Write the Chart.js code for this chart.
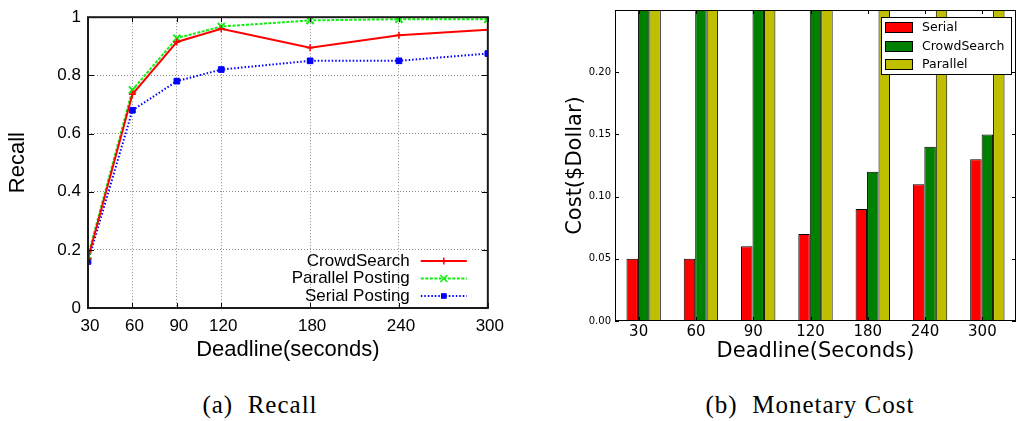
<!DOCTYPE html>
<html>
<head>
<meta charset="utf-8">
<script src="https://cdn.jsdelivr.net/npm/chart.js@4.4.0/dist/chart.umd.min.js"></script>
<style>
  html, body { margin: 0; padding: 0; background: #fff; }
  body { width: 1017px; height: 421px; position: relative; overflow: hidden; }
  .box { position: absolute; top: 0; height: 370px; }
  #recallBox { left: 0; width: 510px; }
  #costBox { left: 530px; width: 487px; }
  .cap {
    position: absolute; top: 392px; line-height: 25px;
    font-family: "Liberation Serif", serif; font-size: 25px; letter-spacing: 1px;
    color: #000; white-space: pre; transform: translateX(-50%);
  }
</style>
</head>
<body>
<div class="box" id="recallBox"><canvas id="recall"></canvas></div>
<div class="box" id="costBox"><canvas id="cost"></canvas></div>
<div class="cap" style="left:260px">(a)  Recall</div>
<div class="cap" style="left:810px">(b)  Monetary Cost</div>

<script>
// ---- Recall vs. deadline ----
const deadlines = [30, 60, 90, 120, 180, 240, 300];
const recallCrowdSearch = [0.17, 0.735, 0.915, 0.96, 0.895, 0.938, 0.957];
const recallParallel = [0.18, 0.75, 0.928, 0.968, 0.989, 0.993, 0.993];
const recallSerial = [0.16, 0.68, 0.78, 0.82, 0.85, 0.85, 0.875];
const recallTicks = [0, 0.2, 0.4, 0.6, 0.8, 1];

// ---- Monetary cost vs. deadline ----
const costCategories = ['30', '60', '90', '120', '180', '240', '300'];
const costSerial = [0.05, 0.05, 0.06, 0.07, 0.09, 0.11, 0.13];
const costCrowdSearch = [0.30, 0.30, 0.30, 0.30, 0.12, 0.14, 0.15];
const costParallel = [0.30, 0.30, 0.30, 0.30, 0.30, 0.30, 0.30];
const costTicks = [0, 0.05, 0.10, 0.15, 0.20, 0.25];

const SANS = 'Liberation Sans';
const DJV = 'DejaVu Sans';

function drawMarker(ctx, style, x, y, r, color) {
  ctx.save();
  ctx.setLineDash([]);
  ctx.strokeStyle = color;
  ctx.fillStyle = color;
  ctx.lineWidth = 1.5;
  ctx.beginPath();
  if (style === 'cross') {
    ctx.moveTo(x - r, y); ctx.lineTo(x + r, y);
    ctx.moveTo(x, y - r); ctx.lineTo(x, y + r);
    ctx.stroke();
  } else if (style === 'crossRot') {
    const d = r * Math.SQRT1_2;
    ctx.moveTo(x - d, y - d); ctx.lineTo(x + d, y + d);
    ctx.moveTo(x - d, y + d); ctx.lineTo(x + d, y - d);
    ctx.stroke();
  } else {
    const s = r * Math.SQRT1_2;
    ctx.fillRect(x - s, y - s, 2 * s, 2 * s);
  }
  ctx.restore();
}

// frame + inward tick marks on all four sides (gnuplot style)
const recallFrame = {
  id: 'recallFrame',
  afterDatasetsDraw(chart) {
    const { ctx, chartArea: a, scales } = chart;
    ctx.save();
    ctx.strokeStyle = '#000';
    ctx.lineWidth = 1;
    ctx.beginPath();
    scales.x.ticks.forEach(t => {
      const px = Math.round(scales.x.getPixelForValue(t.value)) + 0.5;
      ctx.moveTo(px, a.bottom); ctx.lineTo(px, a.bottom - 5);
      ctx.moveTo(px, a.top); ctx.lineTo(px, a.top + 5);
    });
    scales.y.ticks.forEach(t => {
      const py = Math.round(scales.y.getPixelForValue(t.value)) + 0.5;
      ctx.moveTo(a.left, py); ctx.lineTo(a.left + 6, py);
      ctx.moveTo(a.right, py); ctx.lineTo(a.right - 6, py);
    });
    ctx.stroke();
    ctx.strokeStyle = '#1a1a1a';
    ctx.lineWidth = 2;
    ctx.strokeRect(a.left, a.top, a.right - a.left, a.bottom - a.top);
    ctx.restore();
  }
};

const recallLegend = {
  id: 'recallLegend',
  afterDraw(chart) {
    const { ctx, chartArea: a } = chart;
    ctx.save();
    ctx.font = '17px "' + SANS + '"';
    ctx.fillStyle = '#000';
    ctx.textAlign = 'right';
    ctx.textBaseline = 'middle';
    chart.data.datasets.forEach((ds, i) => {
      const y = a.bottom - 47 + i * 17.5;
      ctx.fillText(ds.label, a.right - 78, y);
      ctx.save();
      ctx.strokeStyle = ds.borderColor;
      ctx.lineWidth = ds.borderWidth;
      ctx.setLineDash(ds.borderDash || []);
      ctx.beginPath();
      ctx.moveTo(a.right - 67, y);
      ctx.lineTo(a.right - 21, y);
      ctx.stroke();
      ctx.restore();
      drawMarker(ctx, ds.pointStyle, a.right - 44, y, ds.pointRadius, ds.borderColor);
    });
    ctx.restore();
  }
};

function series(values) {
  return deadlines.map((x, i) => ({ x, y: values[i] }));
}

new Chart(document.getElementById('recall'), {
  type: 'line',
  data: {
    datasets: [
      {
        label: 'CrowdSearch', data: series(recallCrowdSearch),
        borderColor: '#ff0000', borderWidth: 2, borderDash: [],
        pointStyle: 'cross', pointRadius: 3.5, pointBorderWidth: 1.5,
        pointBorderColor: '#ff0000', pointBackgroundColor: '#ff0000'
      },
      {
        label: 'Parallel Posting', data: series(recallParallel),
        borderColor: '#11ee11', borderWidth: 2, borderDash: [3, 1.5],
        pointStyle: 'crossRot', pointRadius: 5, pointBorderWidth: 2,
        pointBorderColor: '#11ee11', pointBackgroundColor: '#11ee11'
      },
      {
        label: 'Serial Posting', data: series(recallSerial),
        borderColor: '#0000ff', borderWidth: 2, borderDash: [1.5, 2],
        pointStyle: 'rect', pointRadius: 4, pointBorderWidth: 1,
        pointBorderColor: '#0000ff', pointBackgroundColor: '#0000ff'
      }
    ]
  },
  options: {
    responsive: true, maintainAspectRatio: false, animation: false,
    layout: { autoPadding: false, padding: { left: 0, right: 20, top: 12, bottom: 0 } },
    plugins: { legend: { display: false }, tooltip: { enabled: false } },
    elements: { line: { tension: 0, fill: false } },
    scales: {
      x: {
        type: 'linear', min: 30, max: 300,
        afterBuildTicks: s => { s.ticks = deadlines.map(v => ({ value: v })); },
        afterFit: s => { s.height = 62; },
        grid: { color: '#8c8c8c', lineWidth: 1, drawTicks: false },
        border: { display: false, dash: [1, 2] },
        ticks: {
          font: { family: SANS, size: 17 }, color: '#000', padding: 8,
          maxRotation: 0, autoSkip: false, labelOffset: 2,
          callback: v => String(v)
        },
        title: {
          display: true, text: 'Deadline(seconds)', color: '#000',
          font: { family: SANS, size: 22 }, padding: { top: 0, bottom: 7 }
        }
      },
      y: {
        min: 0, max: 1,
        afterBuildTicks: s => { s.ticks = recallTicks.map(v => ({ value: v })); },
        afterFit: s => { s.width = 88; },
        grid: { color: '#8c8c8c', lineWidth: 1, drawTicks: false },
        border: { display: false, dash: [1, 2] },
        ticks: {
          font: { family: SANS, size: 17 }, color: '#000', padding: 7,
          callback: v => String(Math.round(v * 10) / 10)
        },
        title: {
          display: true, text: 'Recall', color: '#000',
          font: { family: SANS, size: 22 }, padding: { top: 5, bottom: 0 }
        }
      }
    }
  },
  plugins: [recallFrame, recallLegend]
});

// ---- cost chart helpers ----
const COST_LABEL_SHIFT = -5;

const costFrame = {
  id: 'costFrame',
  afterDatasetsDraw(chart) {
    const { ctx, chartArea: a, scales } = chart;
    ctx.save();
    ctx.strokeStyle = '#000';
    ctx.lineWidth = 1;
    ctx.beginPath();
    scales.x.ticks.forEach((t, i) => {
      const px = Math.round(scales.x.getPixelForTick(i) + COST_LABEL_SHIFT) + 0.5;
      ctx.moveTo(px, a.bottom); ctx.lineTo(px, a.bottom - 4);
      ctx.moveTo(px, a.top); ctx.lineTo(px, a.top + 4);
    });
    scales.y.ticks.forEach(t => {
      const py = Math.round(scales.y.getPixelForValue(t.value)) + 0.5;
      ctx.moveTo(a.left, py); ctx.lineTo(a.left + 4, py);
      ctx.moveTo(a.right, py); ctx.lineTo(a.right - 4, py);
    });
    ctx.stroke();
    ctx.strokeStyle = '#000';
    ctx.lineWidth = 1;
    ctx.strokeRect(Math.round(a.left) + 0.5, Math.round(a.top) + 0.5,
      Math.round(a.right - a.left) - 1, Math.round(a.bottom - a.top) - 1);
    ctx.restore();
  }
};

const costLegend = {
  id: 'costLegend',
  afterDraw(chart) {
    const { ctx, chartArea: a } = chart;
    const x0 = a.right - 135, y0 = a.top + 7, w = 130, h = 57;
    ctx.save();
    ctx.fillStyle = '#fff';
    ctx.fillRect(x0, y0, w, h);
    ctx.strokeStyle = '#000';
    ctx.lineWidth = 1;
    ctx.strokeRect(Math.round(x0) + 0.5, Math.round(y0) + 0.5, w, h);
    ctx.font = '12.5px "' + DJV + '"';
    ctx.textAlign = 'left';
    ctx.textBaseline = 'middle';
    const rows = [17, 36, 54];
    chart.data.datasets.forEach((ds, i) => {
      const y = a.top + rows[i];
      ctx.fillStyle = ds.backgroundColor;
      ctx.fillRect(a.right - 131, y - 5, 27, 10);
      ctx.strokeStyle = '#000';
      ctx.strokeRect(Math.round(a.right - 131) + 0.5, Math.round(y - 5) + 0.5, 27, 10);
      ctx.fillStyle = '#000';
      ctx.fillText(ds.label, a.right - 94, y + 1);
    });
    ctx.restore();
  }
};

new Chart(document.getElementById('cost'), {
  type: 'bar',
  data: {
    labels: costCategories,
    datasets: [
      { label: 'Serial', data: costSerial, backgroundColor: '#ff0000', borderColor: '#000', borderWidth: 1, borderSkipped: false },
      { label: 'CrowdSearch', data: costCrowdSearch, backgroundColor: '#008000', borderColor: '#000', borderWidth: 1, borderSkipped: false },
      { label: 'Parallel', data: costParallel, backgroundColor: '#bfbf00', borderColor: '#000', borderWidth: 1, borderSkipped: false }
    ]
  },
  options: {
    responsive: true, maintainAspectRatio: false, animation: false,
    layout: { padding: { left: 29, right: 1, top: 9, bottom: 0 } },
    plugins: { legend: { display: false }, tooltip: { enabled: false } },
    datasets: { bar: { categoryPercentage: 0.6, barPercentage: 1.0 } },
    scales: {
      x: {
        afterFit: s => { s.height = 49; },
        grid: { display: false, drawTicks: false },
        border: { display: false },
        ticks: {
          font: { family: DJV, size: 15 }, color: '#000', padding: 2,
          maxRotation: 0, autoSkip: false, labelOffset: COST_LABEL_SHIFT
        },
        title: {
          display: true, text: 'Deadline(Seconds)', color: '#000',
          font: { family: DJV, size: 21 }, padding: { top: 0, bottom: 6 }
        }
      },
      y: {
        min: 0, max: 0.25,
        afterBuildTicks: s => { s.ticks = costTicks.map(v => ({ value: v })); },
        afterFit: s => { s.width = 56; },
        grid: { display: false, drawTicks: false },
        border: { display: false },
        ticks: {
          font: { family: DJV, size: 10 }, color: '#000', padding: 4,
          callback: v => (v >= 0.249 ? '' : v.toFixed(2))
        },
        title: {
          display: true, text: 'Cost($Dollar)', color: '#000',
          font: { family: DJV, size: 21 }, padding: { top: 4, bottom: 0 }
        }
      }
    }
  },
  plugins: [costFrame, costLegend]
});
</script>
</body>
</html>
